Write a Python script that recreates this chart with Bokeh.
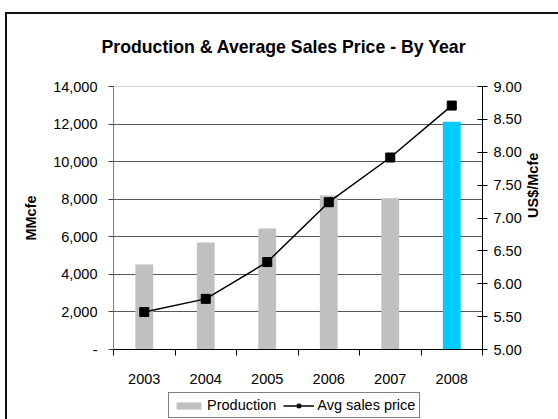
import math
from bokeh.plotting import figure
from bokeh.layouts import column
from bokeh.models import (Range1d, LinearAxis, FixedTicker, NumeralTickFormatter,
                          ColumnDataSource, Legend, LegendItem, InlineStyleSheet, Label)
from bokeh.embed import file_html
from bokeh.resources import INLINE

# ---- data ----
years = ["2003", "2004", "2005", "2006", "2007", "2008"]
production = [4520, 5700, 6440, 8200, 8050, 12130]
avg_price = [5.57, 5.77, 6.33, 7.24, 7.92, 8.71]
bar_colors = ["#C0C0C0", "#C0C0C0", "#C0C0C0", "#C0C0C0", "#C0C0C0", "#00CCFF"]
left_ticks = [0, 2000, 4000, 6000, 8000, 10000, 12000, 14000]
right_ticks = [5.0, 5.5, 6.0, 6.5, 7.0, 7.5, 8.0, 8.5, 9.0]
title_text = "Production & Average Sales Price - By Year"

FONT = "Liberation Sans"
FS = "14.5px"

xs = [i + 0.5 for i in range(len(years))]
src = ColumnDataSource(dict(x=xs, prod=production, price=avg_price, color=bar_colors))

W = 558
TITLE_H = 60
has_frame_align = "frame_align" in figure().properties()


def strip(height):
    f = figure(width=W, height=height, output_backend="svg", toolbar_location=None,
               x_range=Range1d(0, 1), y_range=Range1d(0, height),
               x_axis_location=None, y_axis_location=None,
               min_border_left=0, min_border_right=0, min_border_top=0, min_border_bottom=0)
    f.xgrid.grid_line_color = None
    f.ygrid.grid_line_color = None
    f.outline_line_color = None
    f.background_fill_color = "white"
    f.border_fill_color = "white"
    if has_frame_align:
        f.frame_align = False
    return f


children = []
top_border = 86
if has_frame_align:
    tf = strip(TITLE_H)
    tf.add_layout(Label(x=283.5, y=TITLE_H - 46, x_units="screen", y_units="data",
                        text=title_text, text_align="center", text_baseline="alphabetic",
                        text_font=FONT, text_font_size="17.7px", text_font_style="bold",
                        text_color="black"))
    children.append(tf)
    top_border = 86 - TITLE_H

p = figure(width=W, height=392 - (86 - top_border), output_backend="svg", toolbar_location=None,
           x_range=Range1d(0, len(years)), y_range=Range1d(left_ticks[0], left_ticks[-1]),
           min_border_left=113, min_border_right=76, min_border_top=top_border,
           min_border_bottom=43)
p.extra_y_ranges = {"price": Range1d(right_ticks[0], right_ticks[-1])}

if not has_frame_align:
    p.title.text = title_text
    p.title.text_font = FONT
    p.title.text_font_size = "17.7px"
    p.title.text_font_style = "bold"
    p.title.text_color = "black"
    p.title.align = "left"
    p.title.offset = -12

p.background_fill_color = "white"
p.border_fill_color = "white"
p.outline_line_color = "#d0d0d0"

# grid
p.xgrid.grid_line_color = None
p.ygrid.ticker = FixedTicker(ticks=left_ticks[1:-1])
p.ygrid.grid_line_color = "#595959"
p.ygrid.grid_line_width = 1

# bars
bars = p.vbar(x="x", top="prod", width=0.29, fill_color="color", line_color=None, source=src)
# price line
ln = p.line(x="x", y="price", y_range_name="price", line_color="black", line_width=1.5, source=src)
mk = p.scatter(x="x", y="price", y_range_name="price", marker="square", size=9,
               fill_color="black", line_color="black", source=src)

# x axis
xa = p.xaxis[0]
xa.ticker = FixedTicker(ticks=xs, minor_ticks=list(range(len(years) + 1)))
xa.major_label_overrides = {x: y for x, y in zip(xs, years)}
xa.major_tick_out = 0
xa.major_tick_in = 0
xa.minor_tick_out = 6
xa.minor_tick_in = 0
xa.minor_tick_line_color = "black"
xa.axis_line_color = "black"
xa.major_label_text_font = FONT
xa.major_label_text_font_size = FS
xa.major_label_text_color = "black"
xa.major_label_standoff = 18

# left axis
ya = p.yaxis[0]
ya.ticker = FixedTicker(ticks=left_ticks)
ya.formatter = NumeralTickFormatter(format="0,0")
ya.major_label_overrides = {left_ticks[0]: "-"}
ya.minor_tick_line_color = None
ya.major_tick_out = 5
ya.major_tick_in = 0
ya.axis_line_color = "#7f7f7f"
ya.major_tick_line_color = "#404040"
ya.major_label_text_font = FONT
ya.major_label_text_font_size = FS
ya.major_label_text_color = "black"
ya.major_label_standoff = 11
ya.axis_label = "MMcfe"
ya.axis_label_text_font = FONT
ya.axis_label_text_font_size = FS
ya.axis_label_text_font_style = "bold"
ya.axis_label_text_color = "black"
ya.axis_label_standoff = 11

# right axis
ra = LinearAxis(y_range_name="price", ticker=FixedTicker(ticks=right_ticks),
                formatter=NumeralTickFormatter(format="0.00"))
ra.minor_tick_line_color = None
ra.major_tick_out = 5
ra.major_tick_in = 5
ra.axis_line_color = "black"
ra.major_tick_line_color = "black"
ra.major_label_text_font = FONT
ra.major_label_text_font_size = FS
ra.major_label_text_color = "black"
ra.major_label_standoff = 6
ra.axis_label = "US$/Mcfe"
ra.axis_label_text_font = FONT
ra.axis_label_text_font_size = FS
ra.axis_label_text_font_style = "bold"
ra.axis_label_text_color = "black"
ra.axis_label_standoff = 8
if "axis_label_orientation" in ra.properties():
    ra.axis_label_orientation = math.pi / 2
p.add_layout(ra, "right")
children.append(p)

# legend strip (separate figure; its glyphs live outside its visible range)
lf = strip(27)
lf.x_range = Range1d(0, len(years))
lf.y_range = Range1d(1e6, 1e6 + 1)
lbars = lf.vbar(x="x", top="prod", width=0.29, fill_color="color", line_color=None, source=src)
lln = lf.line(x="x", y="price", line_color="black", line_width=1.5, source=src)
lmk = lf.scatter(x="x", y="price", marker="square", size=9,
                 fill_color="black", line_color="black", source=src)

legend = Legend(items=[LegendItem(label="Production", renderers=[lbars], index=0),
                       LegendItem(label="Avg sales price", renderers=[lln, lmk])],
                location=(168 if has_frame_align else 55, 1), orientation="horizontal",
                border_line_color="black", border_line_width=1,
                padding=4, spacing=7, label_standoff=3, margin=0,
                glyph_width=31, glyph_height=9, label_height=16,
                label_text_font=FONT, label_text_font_size=FS, label_text_color="black",
                background_fill_color="white", background_fill_alpha=1)
lf.add_layout(legend)
children.append(lf)

border_css = InlineStyleSheet(css="""
:host::after { content: ""; position: absolute; left: 5px; top: 12px; right: -30px; bottom: -30px;
               border: 2px solid #111; pointer-events: none; }
""")

layout = column(*children, spacing=0, stylesheets=[border_css])

open("out.html", "w").write(file_html(layout, INLINE))
